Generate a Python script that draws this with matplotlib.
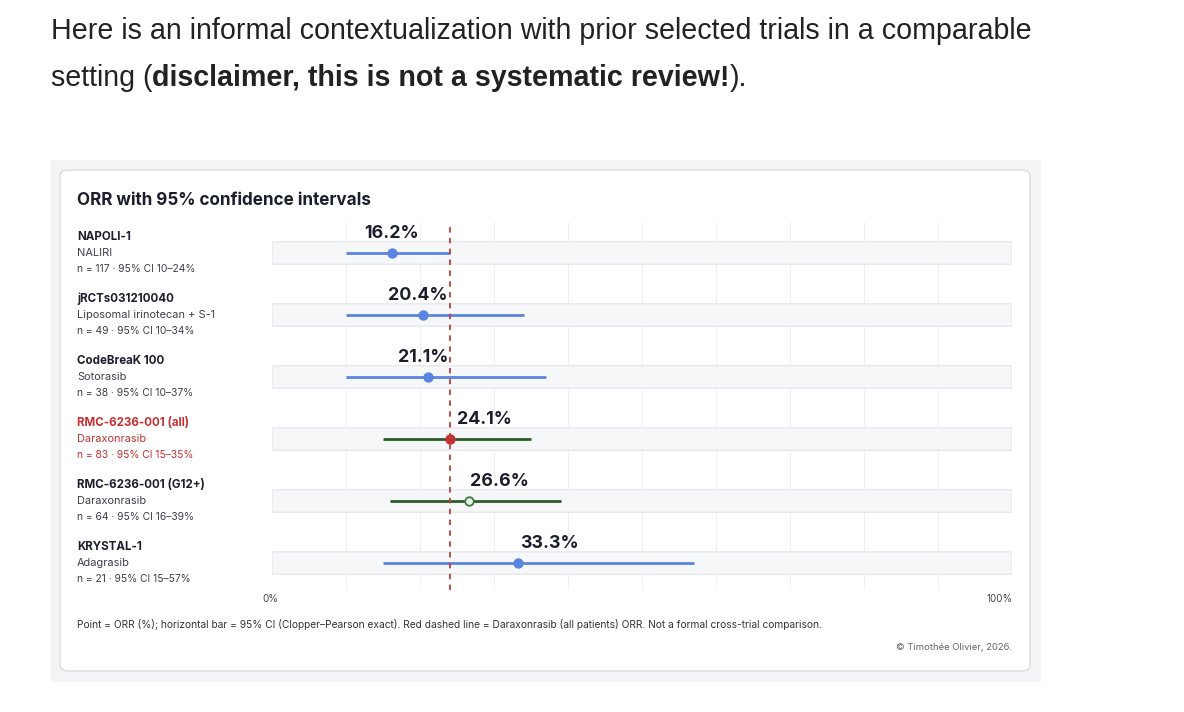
import matplotlib

matplotlib.use("Agg")
import matplotlib.pyplot as plt
from matplotlib.patches import FancyBboxPatch, Rectangle

# Trial data (ORR % with 95% CI)
trials = ["NAPOLI-1", "jRCTs031210040", "CodeBreaK 100", "RMC-6236-001 (all)", "RMC-6236-001 (G12+)", "KRYSTAL-1"]
drugs = ["NALIRI", "Liposomal irinotecan + S-1", "Sotorasib", "Daraxonrasib", "Daraxonrasib", "Adagrasib"]
n_pts = [117, 49, 38, 83, 64, 21]
orr = [16.2, 20.4, 21.1, 24.1, 26.6, 33.3]
ci_lo = [10, 10, 10, 15, 16, 15]
ci_hi = [24, 34, 37, 35, 39, 57]
ref_orr = 24.1

BLUE = "#5a84e0"
GREEN = "#2e5a2e"
RED = "#c53030"
DARK = "#1a1f2b"
line_col = [BLUE, BLUE, BLUE, GREEN, GREEN, BLUE]
dot_face = [BLUE, BLUE, BLUE, RED, "#e8f0e8", BLUE]
dot_edge = [BLUE, BLUE, BLUE, RED, "#3d7a3d", BLUE]
label_dx = [0, -0.7, -0.7, 4.6, 4.2, 4.2]  # nudge value labels off the dashed line

W, H = 1184, 712
fig = plt.figure(figsize=(W / 100, H / 100), dpi=100)
fig.patch.set_facecolor("white")


def fx(px):
    return px / W


def fy(py):
    return 1 - py / H


# Page text above the card
HS = 20.6
fig.text(fx(51), fy(31), "Here is an informal contextualization with prior selected trials in a comparable",
         fontsize=HS, family="Liberation Sans", color="#222222", va="center")
t1 = fig.text(fx(51), fy(78), "setting (", fontsize=HS, family="Liberation Sans", color="#222222", va="center")
fig.canvas.draw()
r = fig.canvas.get_renderer()
x0 = t1.get_window_extent(r).x1
t2 = fig.text(x0 / W, fy(78), "disclaimer, this is not a systematic review!", fontsize=HS, weight="bold",
              family="Liberation Sans", color="#222222", va="center")
x1 = t2.get_window_extent(r).x1
fig.text(x1 / W, fy(78), ").", fontsize=HS, family="Liberation Sans", color="#222222", va="center")

# Card background
fig.patches.append(Rectangle((fx(51), fy(682)), fx(990), 522 / H, transform=fig.transFigure,
                             facecolor="#f3f4f6", edgecolor="none", zorder=0))
fig.patches.append(FancyBboxPatch((fx(60), fy(671)), fx(970), 501 / H, transform=fig.transFigure,
                                  boxstyle="round,pad=0,rounding_size=0.008", facecolor="white",
                                  edgecolor="#d9dce3", linewidth=1, zorder=1))

fig.text(fx(77), fy(201), "ORR with 95% confidence intervals", fontsize=12.3, weight="bold",
         family="Inter", color=DARK, va="center", zorder=3)

# Plot axes: 0..100% spans x=272..1012 px
ax = fig.add_axes([fx(272), fy(590), fx(740), 368 / H], zorder=2)
ax.set_xlim(0, 100)
ax.set_ylim(5.435, -0.5)
ax.axis("off")
ax.patch.set_alpha(0)

for g in range(10, 100, 10):
    ax.axvline(g, color="#eef0f3", lw=0.8, zorder=0)

for i in range(len(trials)):
    ax.add_patch(FancyBboxPatch((0, i - 0.18), 100, 0.36, boxstyle="round,pad=0,rounding_size=0.3",
                                facecolor="#f6f7f9", edgecolor="#e1e4ea", lw=0.8, zorder=1,
                                mutation_aspect=0.05))
    ax.plot([ci_lo[i], ci_hi[i]], [i, i], color=line_col[i], lw=2, solid_capstyle="butt", zorder=3)
    ax.scatter([orr[i]], [i], s=38, facecolor=dot_face[i], edgecolor=dot_edge[i], lw=1.3, zorder=4)
    ax.text(orr[i] + label_dx[i], i - 0.32, f"{orr[i]:.1f}%", ha="center", va="center", fontsize=12.8,
            weight="bold", family="Inter", color=DARK, zorder=5)

    cy = 253 + 62 * i
    col = RED if i == 3 else DARK
    sub = RED if i == 3 else "#3a3f4a"
    fig.text(fx(77), fy(cy - 16), trials[i], fontsize=8.3, weight="bold", family="Inter", color=col, va="center")
    fig.text(fx(77), fy(cy), drugs[i], fontsize=7.9, family="Inter", color=sub, va="center")
    fig.text(fx(77), fy(cy + 16), f"n = {n_pts[i]} · 95% CI {ci_lo[i]}–{ci_hi[i]}%", fontsize=7.4,
             family="Inter", color=sub, va="center")

ax.axvline(ref_orr, color="#b8423c", lw=1.3, ls=(0, (3, 3)), zorder=6)

fig.text(fx(270), fy(599), "0%", fontsize=7, family="Inter", color="#444", ha="center", va="center")
fig.text(fx(1000), fy(599), "100%", fontsize=7, family="Inter", color="#444", ha="center", va="center")
fig.text(fx(77), fy(624), "Point = ORR (%); horizontal bar = 95% CI (Clopper–Pearson exact). Red dashed line = "
         "Daraxonrasib (all patients) ORR. Not a formal cross-trial comparison.", fontsize=7.35,
         family="Inter", color="#333", va="center")
fig.text(fx(1012), fy(648), "© Timothée Olivier, 2026.", fontsize=6.8, family="Inter", color="#666",
         ha="right", va="center")

fig.savefig("out.png", dpi=100)
